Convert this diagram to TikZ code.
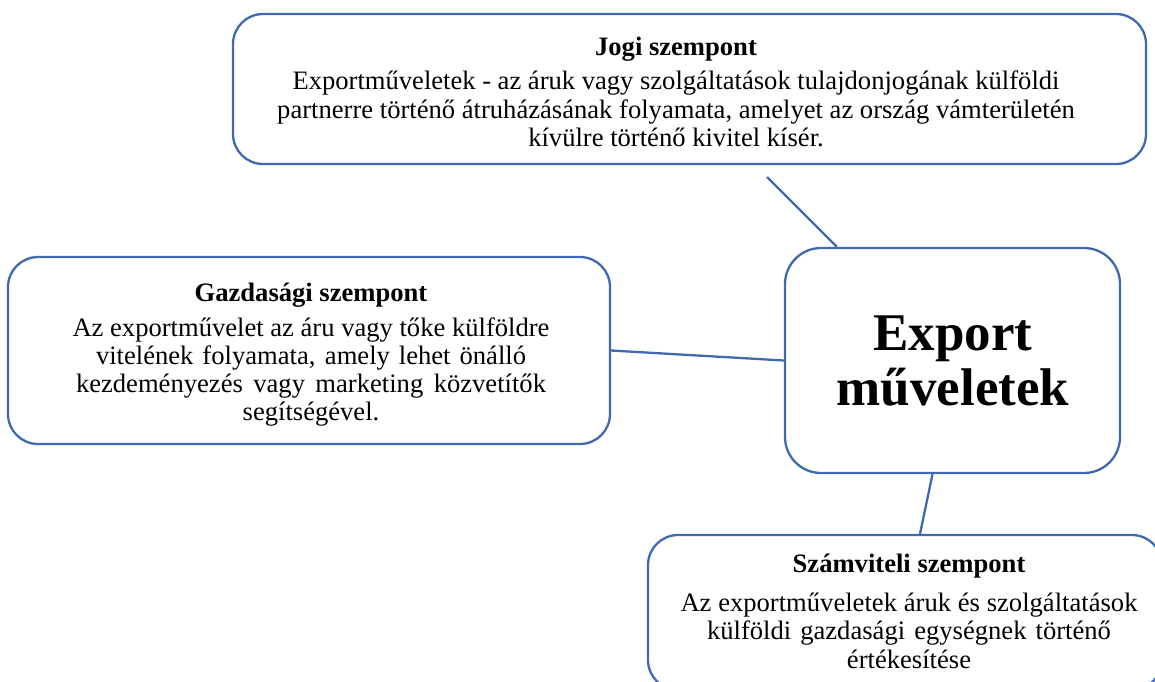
\documentclass[tikz,border=0pt]{standalone}
\usepackage{fontspec}
\setmainfont{Liberation Serif}
\definecolor{boxblue}{HTML}{4169B0}
\tikzset{
  box/.style={draw=boxblue, line width=2.3pt, rounded corners=30pt, fill=white, inner sep=0pt},
  boxtext/.style={align=center, inner sep=0pt, font=\fontsize{26.6}{28.3}\selectfont},
  link/.style={draw=boxblue, line width=2.3pt},
}
\newcommand{\ttl}[2][6pt]{{\bfseries #2}\\[#1]}
\newcommand{\jl}[2]{\makebox[#1pt][s]{#2}}
\begin{document}
\begin{tikzpicture}[x=1pt,y=-1pt]
\useasboundingbox (0,0) rectangle (1155,681);
\node[box, minimum width=913pt, minimum height=150pt] (jogi) at (689.5,89) {};
\node[boxtext] (jogit) at (676,92)
  {\ttl{Jogi szempont}\jl{767}{Exportműveletek - az áruk vagy szolgáltatások tulajdonjogának külföldi}\\
   partnerre történő átruházásának folyamata, amelyet az ország vámterületén\\
   kívülre történő kivitel kísér.};
\node[box, minimum width=602pt, minimum height=187pt] (gazd) at (309,350.5) {};
\node[boxtext] (gazdt) at (311,355)
  {\ttl{Gazdasági szempont}\jl{477}{Az exportművelet az áru vagy tőke külföldre}\\
   \jl{430}{vitelének folyamata, amely lehet önálló}\\
   \jl{470}{kezdeményezés vagy marketing közvetítők}\\
   segítségével.};
\node[box, rounded corners=36pt, minimum width=335pt, minimum height=225pt] (export) at (952.5,360.5) {};
\node[boxtext, font=\bfseries\fontsize{53}{55}\selectfont] (exportt) at (953,360.5)
  {Export\\műveletek};
\node[box, minimum width=514pt, minimum height=155pt] (szam) at (905,612.5) {};
\node[boxtext] (szamt) at (909,611)
  {\ttl[11pt]{Számviteli szempont}\jl{457}{Az exportműveletek áruk és szolgáltatások}\\
   \jl{404}{külföldi gazdasági egységnek történő}\\
   értékesítése};
\coordinate (j1) at (767,177);
\draw[link] (j1) -- ([xshift=53pt]export.north west);
\draw[link] (gazd.east) -- (export.west);
\draw[link] ([xshift=-20pt]export.south) -- ([xshift=15pt]szam.north);
\end{tikzpicture}
\end{document}
